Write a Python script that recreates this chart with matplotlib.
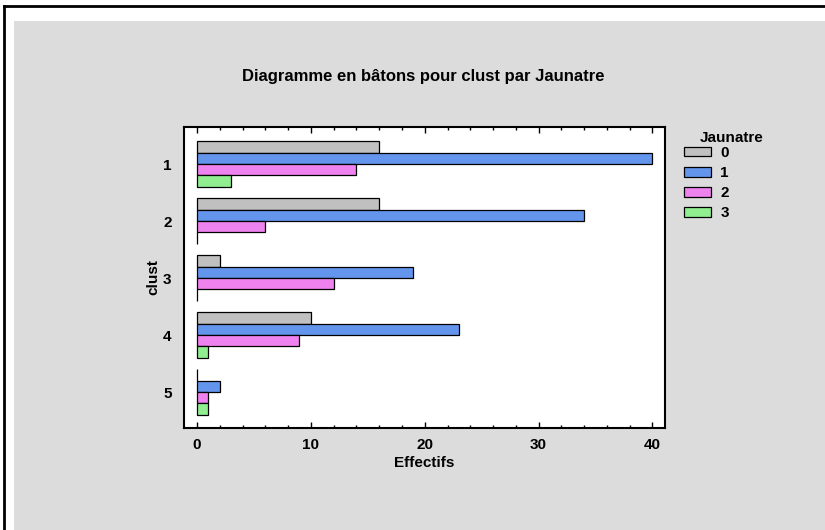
import numpy as np
import matplotlib.pyplot as plt
from matplotlib.patches import Rectangle, Patch
from matplotlib.lines import Line2D
from matplotlib.ticker import MultipleLocator

plt.rcParams['font.family'] = ['Liberation Sans', 'DejaVu Sans']

# data
clusters = ["1", "2", "3", "4", "5"]
levels = ["0", "1", "2", "3"]
counts_0 = [16, 16, 2, 10, 0]
counts_1 = [40, 34, 19, 23, 2]
counts_2 = [14, 6, 12, 9, 1]
counts_3 = [3, 0, 0, 1, 1]
colors = ["#C0C0C0", "#6495ED", "#EE82EE", "#90EE90"]

fig = plt.figure(figsize=(8.25, 5.3), dpi=100)
fig.patch.set_facecolor("white")

# gray panel and outer frame lines
fig.add_artist(Rectangle((14 / 825, 0), 811 / 825, 509 / 530,
                         transform=fig.transFigure, facecolor="#DCDCDC",
                         edgecolor="none", zorder=0))
fig.add_artist(Line2D([4 / 825, 1], [524 / 530, 524 / 530],
                      transform=fig.transFigure, color="black", lw=2))
fig.add_artist(Line2D([4 / 825, 4 / 825], [0, 524 / 530],
                      transform=fig.transFigure, color="black", lw=2))

ax = fig.add_axes([184 / 825, 102 / 530, 481 / 825, 301 / 530])
ax.set_facecolor("white")

y = np.arange(1, len(clusters) + 1)
series = [counts_0, counts_1, counts_2, counts_3]
h = 0.2
for i, vals in enumerate(series):
    ax.barh(y + (i - 1.5) * h, vals, height=h, color=colors[i],
            edgecolor="black", linewidth=0.9, zorder=3)

fs = 11
ax.set_ylim(5.63, 0.35)
ax.set_xlim(-1.14, 41.1)
ax.set_yticks(y)
ax.set_yticklabels(clusters, fontweight="bold", fontsize=fs)
ax.set_xticks([0, 10, 20, 30, 40])
ax.set_xticklabels(["0", "10", "20", "30", "40"], fontweight="bold", fontsize=fs)
ax.xaxis.set_minor_locator(MultipleLocator(2))
ax.tick_params(axis="x", which="major", direction="in", length=4,
               width=1, top=True, pad=7)
ax.tick_params(axis="x", which="minor", direction="in", length=2,
               width=1, top=True)
ax.tick_params(axis="y", length=0, pad=9)
for s in ax.spines.values():
    s.set_linewidth(1.5)

ax.set_xlabel("Effectifs", fontweight="bold", fontsize=fs, labelpad=3)
ax.set_ylabel("clust", fontweight="bold", fontsize=fs, labelpad=2)
fig.text(423 / 825, 1 - 77 / 530, "Diagramme en bâtons pour clust par Jaunatre",
         ha="center", va="center", fontweight="bold", fontsize=12)

fig.text(732 / 825, 1 - 138 / 530, "Jaunatre", ha="center", va="center",
         fontweight="bold", fontsize=fs)
handles = [Patch(facecolor=c, edgecolor="black", linewidth=0.9) for c in colors]
leg = fig.legend(handles, levels, loc="upper left",
                 bbox_to_anchor=(684 / 825, 1 - 146 / 530),
                 frameon=False,
                 prop={"weight": "bold", "size": fs},
                 handlelength=1.77, handleheight=0.6, handletextpad=0.6,
                 labelspacing=0.4, borderpad=0, borderaxespad=0)

fig.savefig("out.png", dpi=100)
